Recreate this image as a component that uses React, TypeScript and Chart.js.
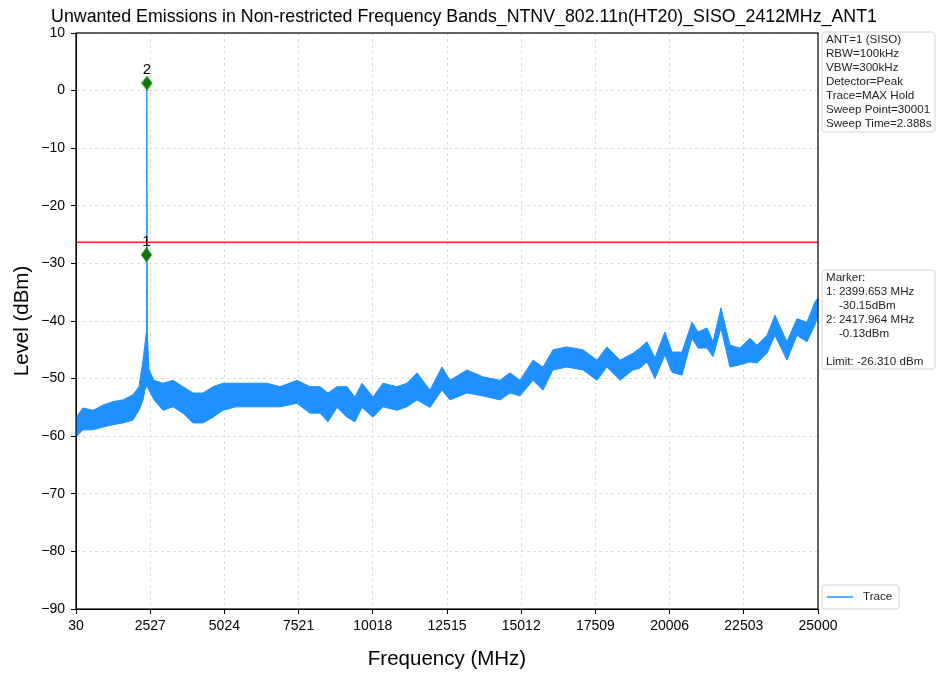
import React, { useEffect, useRef } from "react";
import { Chart, registerables } from "chart.js";
Chart.register(...registerables);

const TITLE = "Unwanted Emissions in Non-restricted Frequency Bands_NTNV_802.11n(HT20)_SISO_2412MHz_ANT1";
const X_LABEL = "Frequency (MHz)";
const Y_LABEL = "Level (dBm)";

const xTickValues = [30, 2527, 5024, 7521, 10018, 12515, 15012, 17509, 20006, 22503, 25000];
const yTickValues = [10, 0, -10, -20, -30, -40, -50, -60, -70, -80, -90];

const freqMHz = [
  30, 266, 602, 939, 1275, 1612, 1948, 2150, 2285, 2352, 2395, 2412, 2430, 2486, 2655, 2958,
  3294, 3631, 3967, 4304, 4640, 4977, 5414, 5851, 6457, 6895, 7467, 7904, 8241, 8510, 8813,
  9149, 9418, 9654, 10024, 10360, 10832, 11168, 11505, 11942, 12346, 12615, 13187, 13726,
  14298, 14634, 14971, 15408, 15745, 16081, 16552, 17091, 17562, 17898, 18336, 18773, 19009,
  19244, 19513, 19849, 20085, 20422, 20759, 20961, 21264, 21466, 21735, 22037, 22374, 22710,
  22946, 23282, 23552, 23955, 24292, 24628, 24897, 25000,
];
const traceUpper = [
  -56.7, -55.1, -55.5, -54.6, -54, -53.7, -52.8, -51.4, -46.8, -44, -42, 1.3, -42, -48.5, -50.3, -50.8,
  -50.3, -51.4, -52.5, -52.5, -51.4, -50.8, -50.8, -50.8, -50.8, -51.4, -50.3, -51.4, -51.4, -52.5, -51.4,
  -51.4, -53.2, -50.8, -53.2, -50.8, -51.4, -50.8, -49, -52, -48, -50.3, -48.5, -49.7,
  -50.3, -49, -50.3, -46.8, -48, -45, -44.5, -45, -46.8, -44.5, -46.8, -45.6, -44.7,
  -43.6, -46.4, -41.9, -45.4, -45.4, -40.2, -41.9, -41.2, -43.6, -37.7, -44.2, -44.7, -43,
  -44.2, -42.5, -39, -43.6, -39.6, -40.2, -36.7, -36,
];
const traceLower = [
  -60.1, -58.9, -58.9, -58.4, -58, -57.7, -57.2, -55.5, -53.7, -52, -51.4, -51.4, -51.4, -52, -53.7, -55.5,
  -54.9, -56, -57.7, -57.7, -56.7, -55.5, -54.9, -54.9, -54.9, -54.9, -54.3, -56, -56, -57.5, -55,
  -56.7, -57.5, -55, -56.7, -54.9, -55.5, -54.9, -53.7, -55, -52, -53.7, -52.5, -53,
  -53.7, -52.5, -53, -50.3, -52, -48.5, -48, -48.5, -50.3, -48, -50.3, -48.5, -48.2,
  -47.1, -50, -45.9, -48.9, -49.4, -43, -44.7, -44.7, -46.2, -41.2, -48, -47.6, -47.1,
  -47.3, -45.6, -42.5, -46.8, -42.5, -43.6, -40.7, -39,
];

const LIMIT_DBM = -26.31;
const markerFreqs = [2399.653, 2417.964];
const markerLevels = [-28.5, 1.3];
const markerNames = ["1", "2"];

const infoLines = [
  "ANT=1 (SISO)",
  "RBW=100kHz",
  "VBW=300kHz",
  "Detector=Peak",
  "Trace=MAX Hold",
  "Sweep Point=30001",
  "Sweep Time=2.388s",
];
const markerLines = [
  "Marker:",
  "1: 2399.653 MHz",
  "    -30.15dBm",
  "2: 2417.964 MHz",
  "    -0.13dBm",
  "",
  "Limit: -26.310 dBm",
];
const LEGEND_LABEL = "Trace";

const TRACE_COLOR = "#1e90ff";
const FONT = "'Liberation Sans', Arial, sans-serif";

function makeDiamond(): HTMLCanvasElement {
  const c = document.createElement("canvas");
  c.width = 11;
  c.height = 15;
  const g = c.getContext("2d")!;
  g.fillStyle = "#0a7a0a";
  g.beginPath();
  g.moveTo(5.5, 0);
  g.lineTo(11, 7.5);
  g.lineTo(5.5, 15);
  g.lineTo(0, 7.5);
  g.closePath();
  g.fill();
  return c;
}

function roundRect(ctx: CanvasRenderingContext2D, x: number, y: number, w: number, h: number, r: number) {
  ctx.beginPath();
  ctx.moveTo(x + r, y);
  ctx.lineTo(x + w - r, y);
  ctx.quadraticCurveTo(x + w, y, x + w, y + r);
  ctx.lineTo(x + w, y + h - r);
  ctx.quadraticCurveTo(x + w, y + h, x + w - r, y + h);
  ctx.lineTo(x + r, y + h);
  ctx.quadraticCurveTo(x, y + h, x, y + h - r);
  ctx.lineTo(x, y + r);
  ctx.quadraticCurveTo(x, y, x + r, y);
  ctx.closePath();
}

const decorPlugin = {
  id: "decor",
  afterDraw(chart: any) {
    const ctx: CanvasRenderingContext2D = chart.ctx;
    const a = chart.chartArea;
    ctx.save();
    // frame
    ctx.strokeStyle = "#000";
    ctx.lineWidth = 1.2;
    ctx.strokeRect(a.left, a.top, a.right - a.left, a.bottom - a.top);
    // title
    ctx.fillStyle = "#000";
    ctx.font = `17.8px ${FONT}`;
    ctx.textAlign = "center";
    ctx.textBaseline = "middle";
    ctx.fillText(TITLE, 464, 17);
    // axis titles
    ctx.font = `20.5px ${FONT}`;
    ctx.fillText(X_LABEL, (a.left + a.right) / 2, 659);
    ctx.save();
    ctx.translate(22, (a.top + a.bottom) / 2);
    ctx.rotate(-Math.PI / 2);
    ctx.fillText(Y_LABEL, 0, 0);
    ctx.restore();
    // marker labels
    const meta = chart.getDatasetMeta(0);
    ctx.font = `15px ${FONT}`;
    ctx.textBaseline = "alphabetic";
    meta.data.forEach((pt: any, i: number) => {
      ctx.fillText(markerNames[i], pt.x, pt.y - 9);
    });
    // info boxes
    const drawBox = (lines: string[], x: number, y: number, w: number, h: number) => {
      roundRect(ctx, x, y, w, h, 3);
      ctx.fillStyle = "rgba(255,255,255,0.9)";
      ctx.fill();
      ctx.strokeStyle = "#d4d4d4";
      ctx.lineWidth = 1;
      ctx.stroke();
      ctx.fillStyle = "#222";
      ctx.font = `11.6px ${FONT}`;
      ctx.textAlign = "left";
      ctx.textBaseline = "middle";
      lines.forEach((l, i) => ctx.fillText(l, x + 4, y + 8 + i * 14));
    };
    drawBox(infoLines, 822, 32, 113, 100);
    drawBox(markerLines, 822, 270, 113, 99);
    // legend
    roundRect(ctx, 822, 585, 77, 24, 3);
    ctx.fillStyle = "rgba(255,255,255,0.9)";
    ctx.fill();
    ctx.strokeStyle = "#d4d4d4";
    ctx.lineWidth = 1;
    ctx.stroke();
    ctx.strokeStyle = TRACE_COLOR;
    ctx.lineWidth = 1.5;
    ctx.beginPath();
    ctx.moveTo(827, 597);
    ctx.lineTo(853, 597);
    ctx.stroke();
    ctx.fillStyle = "#222";
    ctx.font = `11.6px ${FONT}`;
    ctx.textAlign = "left";
    ctx.textBaseline = "middle";
    ctx.fillText(LEGEND_LABEL, 863, 597);
    ctx.restore();
  },
};

export default function App() {
  const ref = useRef<HTMLCanvasElement | null>(null);
  useEffect(() => {
    if (!ref.current) return;
    const diamond = makeDiamond();
    const upperPts = freqMHz.map((f, i) => ({ x: f, y: traceUpper[i] }));
    const lowerPts = freqMHz.map((f, i) => ({ x: f, y: traceLower[i] }));
    const markerPts = markerFreqs.map((f, i) => ({ x: f, y: markerLevels[i] }));
    const limitPts = [
      { x: xTickValues[0], y: LIMIT_DBM },
      { x: xTickValues[xTickValues.length - 1], y: LIMIT_DBM },
    ];
    const chart = new Chart(ref.current, {
      type: "line",
      data: {
        datasets: [
          {
            type: "scatter",
            data: markerPts,
            pointStyle: diamond as any,
            pointRadius: 7,
            showLine: false,
            order: 0,
          } as any,
          {
            data: limitPts,
            borderColor: "#ff2020",
            borderWidth: 1.5,
            pointRadius: 0,
            fill: false,
            order: 1,
          },
          {
            data: upperPts,
            borderColor: TRACE_COLOR,
            borderWidth: 1,
            pointRadius: 0,
            fill: false,
            tension: 0,
            order: 3,
          },
          {
            data: lowerPts,
            borderColor: TRACE_COLOR,
            backgroundColor: TRACE_COLOR,
            borderWidth: 1,
            pointRadius: 0,
            fill: "-1",
            tension: 0,
            order: 2,
          },
        ],
      },
      options: {
        responsive: false,
        animation: false,
        devicePixelRatio: 1,
        layout: { padding: { top: 33, right: 122, left: 0, bottom: 0 } },
        plugins: {
          legend: { display: false },
          tooltip: { enabled: false },
          title: { display: false },
        },
        scales: {
          x: {
            type: "linear",
            min: xTickValues[0],
            max: xTickValues[xTickValues.length - 1],
            afterBuildTicks: (s: any) => {
              s.ticks = xTickValues.map((v) => ({ value: v }));
            },
            afterFit: (s: any) => {
              s.height = 64;
            },
            ticks: {
              autoSkip: false,
              maxRotation: 0,
              padding: 4,
              color: "#000",
              font: { family: FONT, size: 14 },
              callback: (v: any) => String(v),
            },
            grid: {
              color: "#d6d6d6",
              lineWidth: 0.8,
              tickLength: 5,
              tickColor: "#000",
              tickWidth: 1,
            },
            border: { display: true, color: "#000", dash: [3, 3] },
          },
          y: {
            type: "linear",
            min: -90,
            max: 10,
            afterBuildTicks: (s: any) => {
              s.ticks = yTickValues.map((v) => ({ value: v }));
            },
            afterFit: (s: any) => {
              s.width = 76;
            },
            ticks: {
              padding: 6,
              color: "#000",
              font: { family: FONT, size: 14 },
              callback: (v: any) => String(v).replace("-", "\u2212"),
            },
            grid: {
              color: "#d6d6d6",
              lineWidth: 0.8,
              tickLength: 5,
              tickColor: "#000",
              tickWidth: 1,
            },
            border: { display: true, color: "#000", dash: [3, 3] },
          },
        },
      },
      plugins: [decorPlugin],
    });
    return () => chart.destroy();
  }, []);
  return (
    <div style={{ position: "absolute", left: 0, top: 0, width: 940, height: 673, background: "#fff" }}>
      <canvas ref={ref} width={940} height={673} />
    </div>
  );
}
